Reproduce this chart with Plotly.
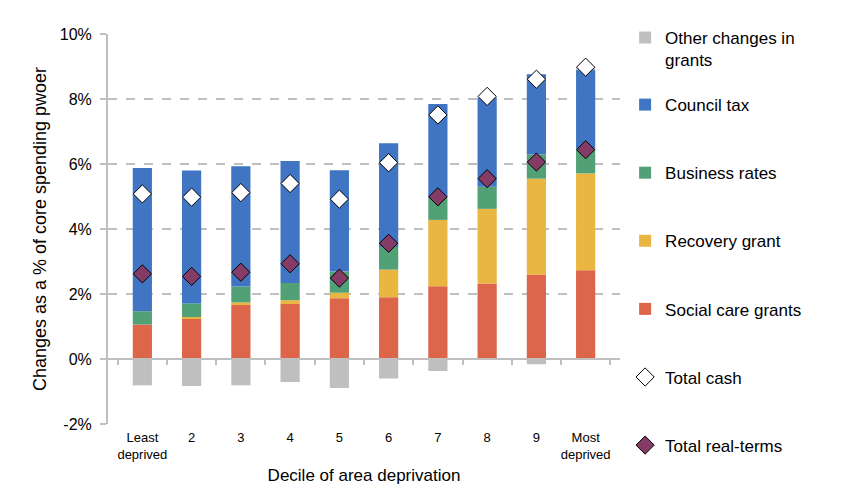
"""Stacked bar chart: changes in core spending power by decile of area deprivation."""

import plotly.graph_objects as go

DECILES = ["Least deprived", "2", "3", "4", "5", "6", "7", "8", "9", "Most deprived"]
TICK_TEXT = ["Least<br>deprived", "2", "3", "4", "5", "6", "7", "8", "9", "Most<br>deprived"]

SOCIAL_CARE = [1.06, 1.25, 1.66, 1.69, 1.87, 1.90, 2.24, 2.32, 2.60, 2.73]
RECOVERY = [0.00, 0.04, 0.08, 0.12, 0.17, 0.85, 2.04, 2.30, 2.95, 2.98]
BUSINESS_RATES = [0.41, 0.42, 0.49, 0.53, 0.65, 0.70, 0.68, 0.68, 0.74, 0.77]
COUNCIL_TAX = [4.41, 4.09, 3.70, 3.75, 3.12, 3.19, 2.89, 2.75, 2.47, 2.41]
OTHER_GRANTS = [-0.81, -0.83, -0.81, -0.71, -0.89, -0.60, -0.37, 0.00, -0.16, 0.08]
TOTAL_CASH = [5.08, 4.98, 5.12, 5.40, 4.92, 6.04, 7.51, 8.08, 8.61, 8.98]
TOTAL_REAL = [2.62, 2.54, 2.67, 2.93, 2.49, 3.56, 4.99, 5.55, 6.06, 6.44]

Y_TICKS = [-2, 0, 2, 4, 6, 8, 10]
Y_TICK_TEXT = ["-2%", "0%", "2%", "4%", "6%", "8%", "10%"]

Y_MIN, Y_MAX = -2, 10
FONT = "Liberation Sans, Arial, sans-serif"
GRID = "#BFBFBF"

fig = go.Figure()

bars = [
    ("Social care grants", SOCIAL_CARE, "#DD6549", "legend2", 5),
    ("Recovery grant", RECOVERY, "#E9B642", "legend2", 4),
    ("Business rates", BUSINESS_RATES, "#52A075", "legend2", 3),
    ("Council tax", COUNCIL_TAX, "#3F75C3", "legend2", 2),
    ("Other changes in<br>grants", OTHER_GRANTS, "#BFBFBF", "legend", 1),
]
for name, vals, color, leg, rank in bars:
    fig.add_trace(go.Bar(
        x=DECILES, y=vals, name=name, legend=leg, legendrank=rank,
        legendgroup=name,
        marker=dict(color=color, line=dict(width=0)),
    ))

fig.add_trace(go.Scatter(
    x=DECILES, y=TOTAL_CASH, name="Total cash", mode="markers",
    legend="legend2", legendrank=6, legendgroup="cash",
    marker=dict(symbol="diamond", size=14, color="white",
                line=dict(color="black", width=1)),
))
fig.add_trace(go.Scatter(
    x=DECILES, y=TOTAL_REAL, name="Total real-terms", mode="markers",
    legend="legend2", legendrank=7, legendgroup="real",
    marker=dict(symbol="diamond", size=14, color="#843C67",
                line=dict(color="black", width=1)),
))

# invisible trace so the label axis at the bottom is drawn
fig.add_trace(go.Scatter(
    x=DECILES, y=[None] * len(DECILES), xaxis="x2", showlegend=False,
    hoverinfo="skip", mode="markers",
))

zero_pos = (0 - Y_MIN) / (Y_MAX - Y_MIN)

# page body adds an 8px offset, so margins are trimmed on the top/left
fig.update_layout(
    width=848, height=496,
    margin=dict(l=100, r=236, t=23, b=80),
    paper_bgcolor="white", plot_bgcolor="white",
    font=dict(family=FONT, color="black"),
    barmode="relative",
    bargap=0.61,
    xaxis=dict(
        type="category", anchor="free", position=zero_pos,
        showline=True, linecolor=GRID, linewidth=2,
        ticks="outside", tickson="boundaries", ticklen=5, tickcolor=GRID,
        tickwidth=1.5, showticklabels=False, showgrid=False,
    ),
    xaxis2=dict(
        type="category", overlaying="x", matches="x", anchor="y", side="bottom",
        showline=False, ticks="", showgrid=False,
        tickvals=DECILES, ticktext=TICK_TEXT, ticklabelstandoff=4,
        tickfont=dict(size=13),
        title=dict(text="Decile of area deprivation", font=dict(size=17), standoff=8),
    ),
    yaxis=dict(
        range=[Y_MIN, Y_MAX], tickvals=Y_TICKS, ticktext=Y_TICK_TEXT,
        showline=True, linecolor=GRID, linewidth=2,
        ticks="outside", ticklen=6, tickcolor=GRID, tickwidth=1.5,
        ticklabelstandoff=5,
        showgrid=True, gridcolor=GRID, griddash="dash", gridwidth=1.5,
        zeroline=False,
        tickfont=dict(size=16),
        title=dict(text="Changes as a % of core spending pwoer", font=dict(size=18), standoff=8),
    ),
    legend=dict(
        x=1.01, xanchor="left", y=1.036, yanchor="top", yref="paper",
        font=dict(size=17), valign="top", bgcolor="rgba(0,0,0,0)",
        traceorder="normal",
    ),
    legend2=dict(
        x=1.01, xanchor="left", y=0.864, yanchor="top",
        font=dict(size=17), traceorder="grouped", tracegroupgap=43,
        bgcolor="rgba(0,0,0,0)",
    ),
)

fig.write_html("out.html")
